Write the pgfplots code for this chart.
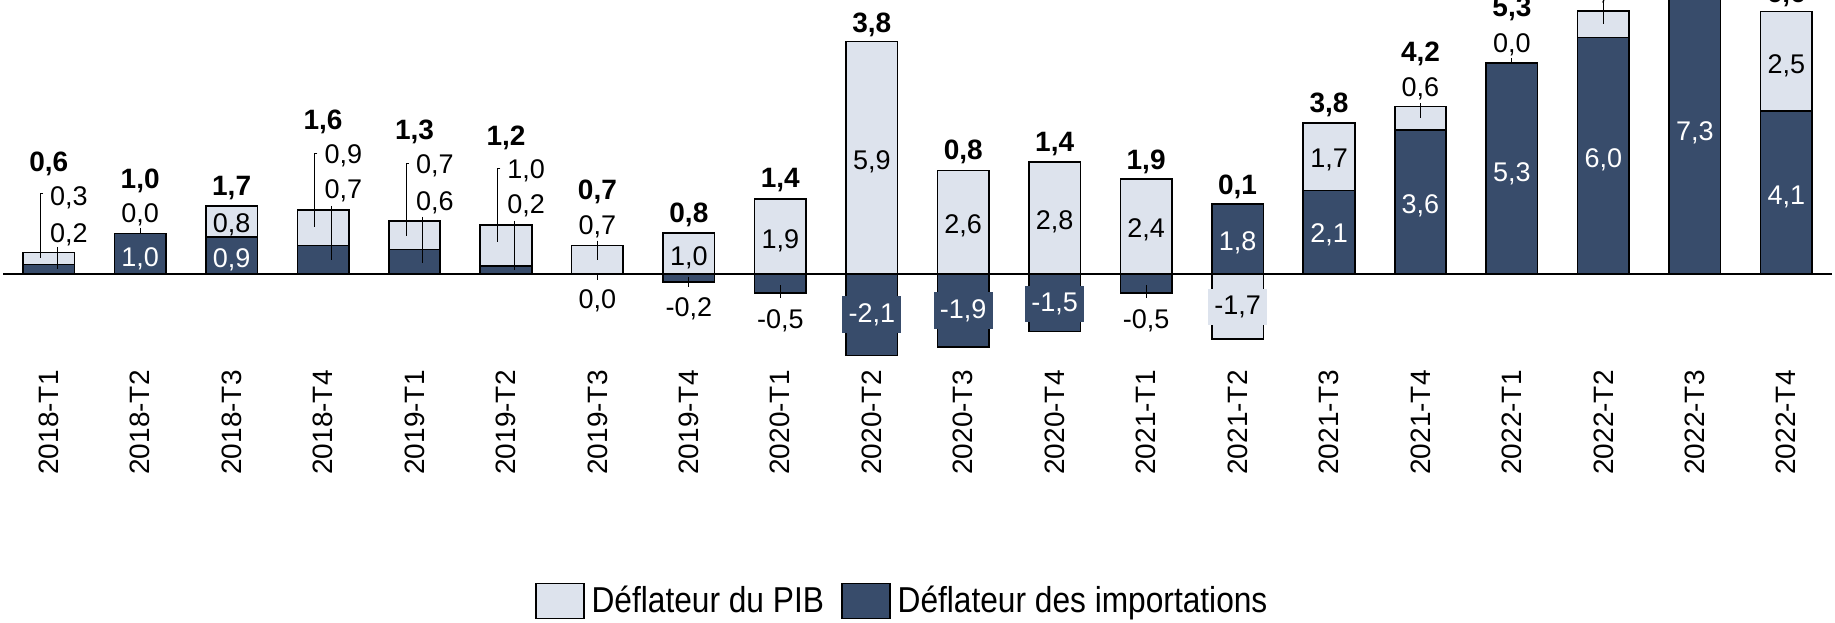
\documentclass[border=0pt]{standalone}
\usepackage{pgfplots}
\usepackage{pgfplotstable}
\pgfplotsset{compat=1.18}
\usepackage{fontspec}
\setmainfont{Liberation Sans}
\newfontfamily\legfont{Liberation Sans}[FakeStretch=0.88]
\definecolor{dark}{HTML}{384C6B}
\definecolor{light}{HTML}{DDE3ED}
\newcommand\lf{\fontsize{13.5}{16}\selectfont}
\newcommand\blf{\fontsize{14}{16}\selectfont\bfseries}

% x: quarter index; dpos/lpos: positive parts; dneg/lneg: negative parts
\pgfplotstableread{
x dpos lpos dneg lneg
0  0.24 0.31 0     0
1  1.03 0.00 0     0
2  0.94 0.79 0     0
3  0.72 0.91 0     0
4  0.62 0.73 0     0
5  0.20 1.04 0     0
6  0.00 0.72 0     0
7  0.00 1.04 -0.21 0
8  0.00 1.90 -0.49 0
9  0.00 5.90 -2.07 0
10 0.00 2.63 -1.86 0
11 0.00 2.85 -1.46 0
12 0.00 2.41 -0.49 0
13 1.78 0.00 0     -1.65
14 2.12 1.71 0     0
15 3.65 0.60 0     0
16 5.35 0.00 0     0
17 6.00 0.68 0     0
18 7.30 0.40 0     0
19 4.13 2.53 0     0
}\data

\begin{document}
\begin{tikzpicture}[
  B/.style={font=\blf, text height=10.1pt, text depth=0pt, inner sep=0pt, anchor=center},
  N/.style={font=\lf, text height=9.7pt, text depth=0pt, inner sep=0pt, anchor=center},
  W/.style={N, text=white},
  L/.style={N, anchor=west},
  DB/.style={font=\lf, fill=dark, text=white, text height=9.7pt, text depth=1.9pt, inner xsep=3.2pt, inner ysep=3.3pt, anchor=center},
  LB/.style={DB, fill=light, text=black},
  ld/.style={black, line width=0.5pt}
]
\pgfplotsset{
  common/.style={
    scale only axis, width=914.5pt, height=182.3pt,
    xmin=-0.5, xmax=19.5, ymin=-2.3, ymax=6.955,
  },
  barst/.style={draw=black, line width=0.8pt},
}
\begin{axis}[common, name=ax, ybar stacked, bar width=25.75pt,
  axis x line*=bottom, axis y line=none, ytick=\empty,
  x axis line style={draw=none}, major tick length=0pt,
  xtick={0,...,19},
  xticklabels={2018-T1,2018-T2,2018-T3,2018-T4,2019-T1,2019-T2,2019-T3,2019-T4,2020-T1,2020-T2,2020-T3,2020-T4,2021-T1,2021-T2,2021-T3,2021-T4,2022-T1,2022-T2,2022-T3,2022-T4},
  xticklabel style={rotate=90, anchor=east, inner sep=0pt, font=\fontsize{14}{16}\selectfont},
  xticklabel shift=2.7pt,
  reverse legend,
  legend columns=2,
  legend image code/.code={\draw[#1] (0pt,-8.75pt) rectangle (24pt,8.75pt);},
  legend style={at={(0.493,-0.648)}, anchor=center, draw=none, fill=none,
    font=\legfont\fontsize{18}{20}\selectfont, inner sep=0pt,
    nodes={inner sep=3.5pt},
    /tikz/every even column/.append style={column sep=5pt}},
]
\addplot[barst, fill=dark] table[x=x, y=dpos]{\data};
\addlegendentry{Déflateur des importations}
\addplot[barst, fill=light] table[x=x, y=lpos]{\data};
\addlegendentry{Déflateur du PIB}
\end{axis}

\begin{axis}[common, hide axis, ybar stacked, bar width=25.75pt]
\addplot[barst, fill=dark] table[x=x, y=dneg]{\data};
\addplot[barst, fill=light] table[x=x, y=lneg]{\data};
\end{axis}

\begin{axis}[common, hide axis, clip=false]
\draw[black, line width=1pt] (axis cs:-0.5,0) -- (axis cs:19.5,0);
% leader lines
\draw[ld] (axis cs:-0.062,2.04) -- (axis cs:-0.091,2.04) -- (axis cs:-0.091,0.40);
\draw[ld] (axis cs:0.095,0.69) -- (axis cs:0.095,0.13);
\draw[ld] (axis cs:2.938,3.07) -- (axis cs:2.909,3.07) -- (axis cs:2.909,1.20);
\draw[ld] (axis cs:3.09,1.73) -- (axis cs:3.09,0.36);
\draw[ld] (axis cs:3.938,2.80) -- (axis cs:3.909,2.80) -- (axis cs:3.909,0.96);
\draw[ld] (axis cs:4.09,1.45) -- (axis cs:4.09,0.29);
\draw[ld] (axis cs:4.938,2.68) -- (axis cs:4.909,2.68) -- (axis cs:4.909,0.82);
\draw[ld] (axis cs:5.09,1.35) -- (axis cs:5.09,0.10);
\draw[ld] (axis cs:1,1.16) -- (axis cs:1,1.03);
\draw[ld] (axis cs:6,0.85) -- (axis cs:6,0.36);
\draw[ld] (axis cs:6,0) -- (axis cs:6,-0.16);
\draw[ld] (axis cs:7,-0.07) -- (axis cs:7,-0.32);
\draw[ld] (axis cs:8,-0.28) -- (axis cs:8,-0.61);
\draw[ld] (axis cs:12,-0.28) -- (axis cs:12,-0.61);
\draw[ld] (axis cs:15,4.34) -- (axis cs:15,3.96);
\draw[ld] (axis cs:16,5.48) -- (axis cs:16,5.35);
\draw[ld] (axis cs:17,7.0) -- (axis cs:17,6.35);
% totals
\node[B] at (axis cs:0,2.85) {0,6};
\node[B] at (axis cs:1,2.43) {1,0};
\node[B] at (axis cs:2,2.24) {1,7};
\node[B] at (axis cs:3,3.93) {1,6};
\node[B] at (axis cs:4,3.67) {1,3};
\node[B] at (axis cs:5,3.53) {1,2};
\node[B] at (axis cs:6,2.15) {0,7};
\node[B] at (axis cs:7,1.56) {0,8};
\node[B] at (axis cs:8,2.45) {1,4};
\node[B] at (axis cs:9,6.38) {3,8};
\node[B] at (axis cs:10,3.16) {0,8};
\node[B] at (axis cs:11,3.37) {1,4};
\node[B] at (axis cs:12,2.92) {1,9};
\node[B] at (axis cs:13,2.28) {0,1};
\node[B] at (axis cs:14,4.35) {3,8};
\node[B] at (axis cs:15,5.66) {4,2};
\node[B] at (axis cs:16,6.78) {5,3};
\node[B] at (axis cs:19,7.15) {6,6};
% plain labels
\node[N] at (axis cs:1,1.56) {0,0};
\node[N] at (axis cs:2,1.31) {0,8};
\node[N] at (axis cs:6,1.26) {0,7};
\node[N] at (axis cs:6,-0.64) {0,0};
\node[N] at (axis cs:7,0.46) {1,0};
\node[N] at (axis cs:7,-0.84) {-0,2};
\node[N] at (axis cs:8,0.89) {1,9};
\node[N] at (axis cs:8,-1.14) {-0,5};
\node[N] at (axis cs:9,2.89) {5,9};
\node[N] at (axis cs:10,1.27) {2,6};
\node[N] at (axis cs:11,1.37) {2,8};
\node[N] at (axis cs:12,1.18) {2,4};
\node[N] at (axis cs:12,-1.14) {-0,5};
\node[N] at (axis cs:14,2.94) {1,7};
\node[N] at (axis cs:15,4.75) {0,6};
\node[N] at (axis cs:16,5.88) {0,0};
\node[N] at (axis cs:17,7.22) {0,7};
\node[N] at (axis cs:19,5.33) {2,5};
% white labels
\node[W] at (axis cs:1,0.43) {1,0};
\node[W] at (axis cs:2,0.42) {0,9};
\node[W] at (axis cs:13,0.84) {1,8};
\node[W] at (axis cs:14,1.04) {2,1};
\node[W] at (axis cs:15,1.78) {3,6};
\node[W] at (axis cs:16,2.6) {5,3};
\node[W] at (axis cs:17,2.96) {6,0};
\node[W] at (axis cs:18,3.63) {7,3};
\node[W] at (axis cs:19,2.0) {4,1};
% left-anchored labels
\node[L] at (axis cs:0.012,1.98) {0,3};
\node[L] at (axis cs:0.012,1.05) {0,2};
\node[L] at (axis cs:3.012,3.04) {0,9};
\node[L] at (axis cs:3.012,2.15) {0,7};
\node[L] at (axis cs:4.012,2.79) {0,7};
\node[L] at (axis cs:4.012,1.86) {0,6};
\node[L] at (axis cs:5.012,2.66) {1,0};
\node[L] at (axis cs:5.012,1.77) {0,2};
% boxed negative labels
\node[DB] at (axis cs:9,-1.03) {-2,1};
\node[DB] at (axis cs:10,-0.93) {-1,9};
\node[DB] at (axis cs:11,-0.76) {-1,5};
\node[LB] at (axis cs:13,-0.84) {-1,7};
\end{axis}
\pgfresetboundingbox
\path[use as bounding box] ([xshift=-1.5pt,yshift=-128.7pt]ax.south west) rectangle ([xshift=1.5pt]ax.north east);
\end{tikzpicture}
\end{document}
